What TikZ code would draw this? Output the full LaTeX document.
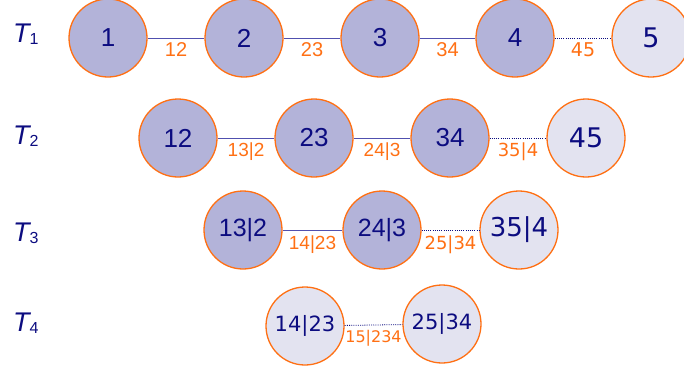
\documentclass[tikz,border=0pt]{standalone}
\definecolor{myorange}{RGB}{255,112,20}
\definecolor{mynavy}{RGB}{12,12,128}
\definecolor{mydark}{RGB}{179,179,217}
\definecolor{mylight}{RGB}{227,227,240}
\definecolor{myline}{RGB}{80,80,175}
\usepackage{fontspec}
\setmainfont{Liberation Sans}
\newfontfamily\verdfont{DejaVu Sans}
\usepackage{tikz}
\usetikzlibrary{positioning}

\begin{document}
\begin{tikzpicture}[x=1pt, y=-1pt,
    dk/.style={circle, draw=myorange, line width=1.3pt, fill=mydark,
               minimum size=78pt, inner sep=0pt, text=mynavy,
               font=\fontsize{26}{26}\selectfont},
    lt/.style={dk, fill=mylight, font=\verdfont\fontsize{26}{26}\selectfont},
    firm/.style={draw=myline, line width=0.9pt},
    weak/.style={draw=mynavy, line width=0.8pt, dash pattern=on 1pt off 1.2pt},
    lbl/.style={below=3pt, inner sep=1pt, text=myorange},
    tname/.style={anchor=base west, inner sep=0pt, text=mynavy,
                  font=\fontsize{27}{27}\selectfont}]

  \useasboundingbox (0,0) rectangle (684,370);

  % level labels
  \node[tname] (t1) at (13,42)  {\itshape T\upshape\fontsize{16}{16}\selectfont\raisebox{-2pt}{1}};
  \node[tname] (t2) at (13,144) {\itshape T\upshape\fontsize{16}{16}\selectfont\raisebox{-2pt}{2}};
  \node[tname] (t3) at (13,241) {\itshape T\upshape\fontsize{16}{16}\selectfont\raisebox{-2pt}{3}};
  \node[tname] (t4) at (13,331) {\itshape T\upshape\fontsize{16}{16}\selectfont\raisebox{-2pt}{4}};

  % tree T1
  \node[dk] (a1) at (108,38) {1};
  \node[dk] (a2) at (244,38) {2};
  \node[dk] (a3) at (380,38) {3};
  \node[dk] (a4) at (515,38) {4};
  \node[lt, font=\verdfont\fontsize{27}{27}\selectfont] (a5) at (651,38) {5};

  \draw[firm] (a1) -- node[lbl, font=\fontsize{20}{20}\selectfont] {12} (a2);
  \draw[firm] (a2) -- node[lbl, font=\fontsize{20}{20}\selectfont] {23} (a3);
  \draw[firm] (a3) -- node[lbl, font=\fontsize{20}{20}\selectfont] {34} (a4);
  \draw[weak] (a4) -- node[lbl, font=\verdfont\fontsize{19}{19}\selectfont] {45} (a5);

  % tree T2
  \node[dk] (b1) at (178,138) {12};
  \node[dk] (b2) at (314,138) {23};
  \node[dk] (b3) at (450,138) {34};
  \node[lt, font=\verdfont\fontsize{27}{27}\selectfont] (b4) at (586,138) {45};

  \draw[firm] (b1) -- node[lbl, font=\fontsize{19}{19}\selectfont] {13|2} (b2);
  \draw[firm] (b2) -- node[lbl, font=\fontsize{19}{19}\selectfont] {24|3} (b3);
  \draw[weak] (b3) -- node[lbl, font=\verdfont\fontsize{18}{18}\selectfont] {35|4} (b4);

  % tree T3
  \node[dk, font=\fontsize{25}{25}\selectfont] (c1) at (243,230) {13|2};
  \node[dk, font=\fontsize{25}{25}\selectfont] (c2) at (382,230) {24|3};
  \node[lt] (c3) at (519,230) {35|4};

  \draw[firm] (c1) -- node[lbl, below=4pt, font=\fontsize{19}{19}\selectfont] {14|23} (c2);
  \draw[weak] (c2) -- node[lbl, below=4pt, font=\verdfont\fontsize{18}{18}\selectfont] {25|34} (c3);

  % tree T4
  \node[lt, font=\verdfont\fontsize{21}{21}\selectfont] (d1) at (305,326) {14|23};
  \node[lt, font=\verdfont\fontsize{21}{21}\selectfont] (d2) at (442,324) {25|34};

  \draw[weak] (d1) -- node[lbl, below=4pt, font=\verdfont\fontsize{16}{16}\selectfont] {15|234} (d2);

\end{tikzpicture}
\end{document}
